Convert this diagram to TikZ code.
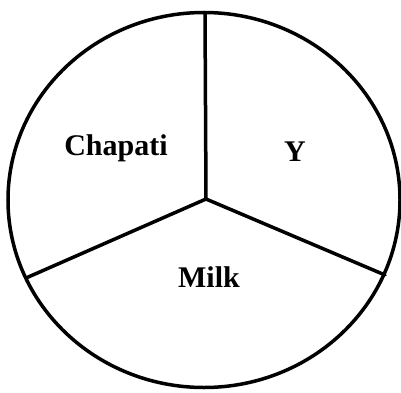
\documentclass[tikz,border=0pt]{standalone}
\usepackage{fontspec}
\setmainfont{Liberation Serif}
\usetikzlibrary{shapes.geometric}
\begin{document}
\begin{tikzpicture}[x=1pt,y=1pt,
  piece/.style={line width=3.5pt,line cap=round,line join=round},
  lab/.style={font=\fontsize{30}{34}\selectfont\bfseries,inner sep=0pt}]
\useasboundingbox (0,0) rectangle (401,392);
\node[ellipse,draw,line width=3.5pt,minimum width=392pt,minimum height=375pt,inner sep=0pt] (pie) at (204,192) {};
\coordinate (c) at (206,193);
\coordinate (t) at (205,379.5);
\coordinate (l) at (26,114);
\coordinate (r) at (385,117);
\draw[piece] (c) -- (t);
\draw[piece] (c) -- (l);
\draw[piece] (c) -- (r);
\node[lab] (chapati) at (116,244) {Chapati};
\node[lab] (y) at (295,240) {Y};
\node[lab] (milk) at (209,115) {Milk};
\end{tikzpicture}
\end{document}
